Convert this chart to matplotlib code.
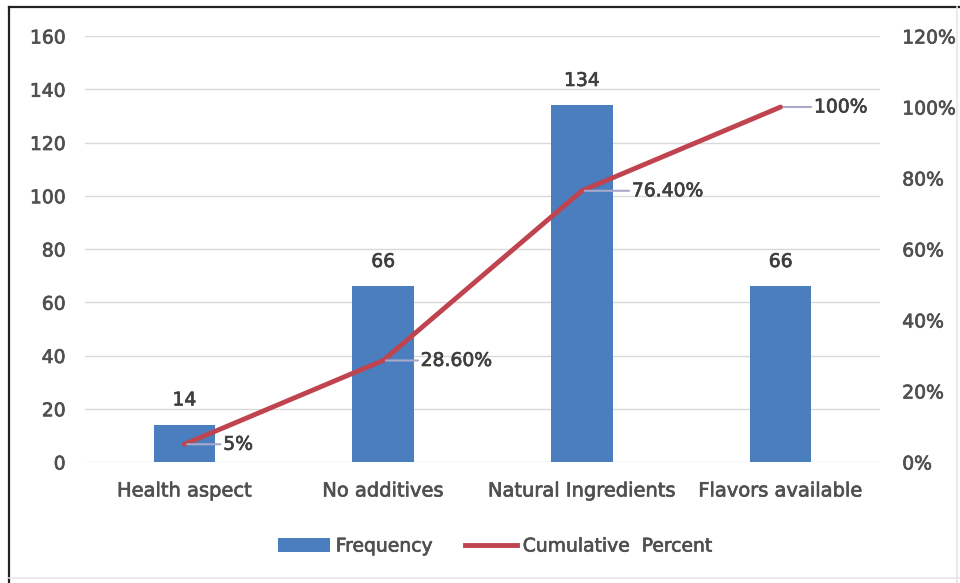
import matplotlib
matplotlib.use("Agg")
import matplotlib.pyplot as plt
import matplotlib.patheffects as pe
from matplotlib.patches import Patch
from matplotlib.lines import Line2D

categories = ["Health aspect", "No additives", "Natural Ingredients", "Flavors available"]
frequency = [14, 66, 134, 66]
cumulative_pct = [5.0, 28.6, 76.4, 100.0]
cumulative_labels = ["5%", "28.60%", "76.40%", "100%"]

plt.rcParams["font.family"] = ["DejaVu Sans"]
TEXT = "#505050"
LABEL = "#3F3F3F"
BAR = "#4A7EBF"
LINE = "#C0444F"

# Horizontal offsets (points) of the cumulative-percent labels
label_offsets = [28, 27, 36, 24]


def thicken(color):
    return [pe.withStroke(linewidth=0.5, foreground=color)]


fig = plt.figure(figsize=(9.6, 5.83), dpi=100)

# Frame: dark top and left edges, faint bottom and right edges
W, H = 960, 583
frame = [((9, 9), (7, 583), "#222222", 1.6),
         ((9, 960), (7, 7), "#222222", 1.6),
         ((9, 960), (578, 578), "#E6E6E6", 1.2),
         ((957, 957), (7, 583), "#E6E6E6", 1.2)]
for xs, ys, c, lw in frame:
    fig.add_artist(Line2D([v / W for v in xs], [1 - v / H for v in ys],
                          transform=fig.transFigure, color=c, linewidth=lw))

ax = fig.add_axes([85 / 960, 1 - 462 / 583, 795 / 960, 426 / 583])
x = list(range(len(categories)))
ax.bar(x, frequency, width=0.31, color=BAR, zorder=2)
ax.set_xlim(-0.5, len(categories) - 0.5)
ax.set_ylim(0, 160)
ax.set_yticks(range(0, 161, 20))
ax.grid(axis="y", color="#D9D9D9", linewidth=1, zorder=0)
for s in ax.spines.values():
    s.set_visible(False)
ax.tick_params(axis="both", length=0, labelsize=13.5, colors=TEXT)
ax.tick_params(axis="y", pad=14)
ax.tick_params(axis="x", pad=14, labelsize=14)
ax.set_xticks(x)
ax.set_xticklabels(categories)
for xi, v in zip(x, frequency):
    ax.annotate(str(v), (xi, v), xytext=(0, 11), textcoords="offset points",
                ha="center", va="bottom", fontsize=13.5, color=LABEL,
                path_effects=thicken(LABEL))

ax2 = ax.twinx()
ax2.set_ylim(0, 120)
ax2.set_yticks(range(0, 121, 20))
ax2.set_yticklabels([f"{v}%" for v in range(0, 121, 20)])
for s in ax2.spines.values():
    s.set_visible(False)
ax2.tick_params(axis="y", length=0, labelsize=13.5, colors=TEXT, pad=16)
ax2.plot(x, cumulative_pct, color=LINE, linewidth=3.5, solid_capstyle="round", zorder=3)
for xi, v, lab, dx in zip(x, cumulative_pct, cumulative_labels, label_offsets):
    ax2.annotate(lab, (xi, v), xytext=(dx, 0), textcoords="offset points",
                 ha="left", va="center", fontsize=13.5, color=LABEL,
                 path_effects=thicken(LABEL),
                 arrowprops=dict(arrowstyle="-", color="#A9A9CC", lw=1.5,
                                 shrinkA=0, shrinkB=2))

for t in ax.get_xticklabels() + ax.get_yticklabels() + ax2.get_yticklabels():
    t.set_path_effects(thicken(TEXT))

handles = [Patch(facecolor=BAR, label="Frequency"),
           Line2D([0], [0], color=LINE, linewidth=3.5, label="Cumulative  Percent")]
leg = fig.legend(handles=handles, loc="center", bbox_to_anchor=(495 / 960, 1 - 546 / 583),
                 ncol=2, frameon=False, fontsize=13.5, labelcolor=TEXT,
                 handlelength=2.8, handleheight=0.7, handletextpad=0.3, columnspacing=1.7)
for t in leg.get_texts():
    t.set_path_effects(thicken(TEXT))

fig.savefig("out.png", dpi=100, facecolor="white")
